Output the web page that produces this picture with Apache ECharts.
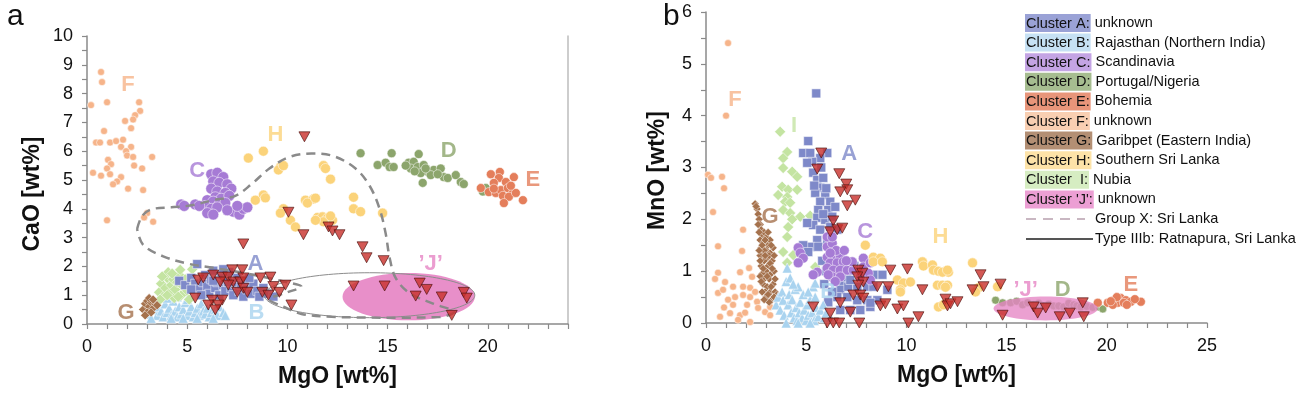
<!DOCTYPE html>
<html>
<head>
<meta charset="utf-8">
<script src="https://cdn.jsdelivr.net/npm/echarts@6/dist/echarts.min.js"></script>
<style>
  html, body { margin: 0; padding: 0; background: #fff; }
  #main { width: 1300px; height: 396px; }
</style>
</head>
<body>
<div id="main"></div>
<script>
'use strict';

// ---------- panel a : CaO vs MgO ----------
var aF = [[0.7,8.75],[0.75,8.4],[0.2,7.6],[1.0,7.7],[2.6,7.7],[2.65,7.4],[2.4,7.25],[2.3,7.1],[1.9,7.05],[2.2,6.8],[0.85,6.7],[0.45,6.3],[0.65,6.3],[1.15,6.3],[1.45,6.35],[1.8,6.4],[1.7,6.15],[2.2,6.15],[1.95,6.0],[2.0,5.85],[2.3,5.8],[3.25,5.8],[1.05,5.7],[1.2,5.55],[2.35,5.5],[1.0,5.4],[2.75,5.4],[0.3,5.25],[0.7,5.15],[1.15,5.2],[1.7,5.1],[1.5,4.95],[1.3,4.85],[2.05,4.7],[2.8,4.65],[1.0,3.6],[3.0,3.85],[2.85,3.7],[3.3,3.55]];
var aC = [[6.2,5.2],[6.5,5.25],[6.8,5.1],[6.3,4.95],[6.6,4.9],[7.0,4.85],[7.2,4.7],[6.2,4.7],[6.5,4.6],[6.9,4.55],[6.4,4.4],[6.7,4.35],[7.1,4.45],[6.0,4.3],[6.3,4.25],[6.6,4.15],[6.9,4.2],[5.9,4.1],[6.2,4.0],[6.5,4.05],[6.0,3.85],[6.3,3.8],[7.3,3.9],[7.6,3.8],[7.8,4.0],[8.0,4.05],[7.5,4.1],[4.7,4.15],[4.85,4.1],[5.4,4.15],[5.6,4.1],[7.0,3.95]];
var aH = [[8.05,5.76],[8.8,6.0],[9.65,5.45],[9.55,5.35],[9.8,5.5],[11.8,5.5],[11.9,5.4],[12.15,5.03],[8.8,4.48],[8.9,4.38],[8.4,4.3],[9.8,4.0],[9.65,3.85],[10.15,3.6],[10.4,3.37],[10.9,4.3],[11.3,4.34],[11.0,4.2],[11.4,4.37],[13.3,4.4],[13.3,4.0],[13.65,3.9],[14.75,3.85],[11.5,3.7],[11.75,3.72],[12.0,3.68],[12.25,3.6],[11.8,3.55],[11.4,3.6],[12.15,3.75]];
var aD = [[13.65,5.93],[14.5,5.52],[14.9,5.6],[15.2,5.93],[15.1,5.45],[15.3,5.45],[16.55,5.9],[16.05,5.6],[16.3,5.63],[16.15,5.4],[16.5,5.45],[16.8,5.52],[17.0,5.28],[17.3,5.35],[17.65,5.4],[17.8,5.1],[18.0,5.07],[18.4,5.17],[18.65,4.93],[18.8,4.86],[16.75,4.9],[16.65,5.24],[17.15,5.17],[19.9,4.72],[19.75,4.6],[15.9,5.5],[16.35,5.3],[17.5,5.2],[16.9,5.4]];
var aE = [[20.15,5.2],[20.6,5.28],[21.3,5.1],[20.55,5.07],[20.9,4.93],[20.3,4.9],[19.65,4.72],[20.05,4.58],[20.4,4.55],[20.65,4.65],[21.0,4.72],[21.25,4.55],[20.75,4.45],[21.05,4.42],[21.4,4.55],[21.75,4.3],[20.3,4.7],[21.15,4.8],[20.8,4.2]];
var aG = [[2.8,0.5],[2.9,0.7],[3.0,0.8],[3.1,0.6],[3.2,0.75],[3.3,0.55],[3.4,0.7],[3.0,0.4],[3.2,0.4],[2.9,0.3],[3.1,0.9],[3.3,0.85],[3.5,0.65]];
var aB = [[3.1,0.35],[3.3,0.5],[3.5,0.3],[3.6,0.6],[3.7,0.45],[3.8,0.25],[3.9,0.7],[4.0,0.4],[4.1,0.55],[4.2,0.3],[4.3,0.8],[4.4,0.45],[4.5,0.25],[4.6,0.6],[4.7,0.35],[4.8,0.5],[4.9,0.75],[5.0,0.3],[5.1,0.45],[5.2,0.6],[5.3,0.25],[5.4,0.4],[5.5,0.55],[5.6,0.3],[5.7,0.7],[5.8,0.45],[5.9,0.35],[6.0,0.55],[6.1,0.25],[6.2,0.4],[6.4,0.5],[6.5,0.3],[6.6,0.6],[6.8,0.4],[6.9,0.3],[3.4,0.75],[4.0,0.9],[4.5,0.95],[5.0,0.85],[4.2,0.2],[4.8,0.2],[5.5,0.2],[3.2,0.2],[6.3,0.2]];
var aI = [[3.6,1.1],[3.7,1.4],[3.8,0.95],[3.9,1.25],[4.0,1.6],[4.05,1.8],[4.1,1.05],[4.2,1.35],[4.3,1.55],[4.35,0.9],[4.4,1.2],[4.5,1.45],[4.6,1.7],[4.65,1.88],[4.7,1.0],[4.8,1.3],[4.9,1.55],[5.0,1.15],[5.1,0.85],[5.25,1.9],[3.75,1.65],[4.25,1.75],[4.55,0.95],[5.2,1.4],[3.65,0.85],[4.0,1.0]];
var aA = [[4.6,1.5],[4.9,1.35],[5.2,1.6],[5.5,2.08],[5.4,1.4],[5.6,1.2],[5.8,1.45],[5.9,1.7],[6.0,1.3],[6.1,1.05],[6.2,1.55],[6.3,1.85],[6.4,1.25],[6.5,1.45],[6.6,1.0],[6.7,1.7],[6.8,1.35],[6.9,1.15],[7.0,1.5],[7.1,1.8],[7.2,1.25],[7.3,1.0],[7.4,1.4],[7.5,1.6],[7.6,1.15],[7.7,1.35],[7.8,0.95],[7.9,1.5],[8.0,1.2],[8.2,1.05],[8.3,1.4],[8.5,1.15],[8.6,0.95],[8.8,1.25],[9.0,1.05],[9.3,0.95],[5.7,1.0],[6.3,1.5],[7.05,1.45],[8.1,1.6],[6.8,1.9],[5.2,1.2]];
var aSamples = [[7.8,2.78],[7.25,1.88],[7.75,1.88],[5.55,1.53],[5.8,1.6],[6.3,1.7],[6.75,1.63],[7.05,1.63],[6.65,1.46],[7.3,1.46],[7.65,1.46],[7.8,1.6],[8.65,1.6],[9.15,1.63],[7.05,1.35],[7.5,1.1],[7.8,1.24],[8.0,1.1],[8.75,1.1],[9.05,1.0],[9.3,1.3],[9.6,1.1],[9.9,1.35],[5.4,0.9],[6.25,0.83],[6.75,0.83],[6.05,0.66],[6.55,0.66],[6.4,0.49],[10.2,0.66],[10.05,3.88],[10.8,3.1],[10.85,6.5],[12.05,3.37],[12.25,3.23],[12.6,3.1],[13.75,2.68],[13.95,2.3],[14.8,2.2],[13.3,1.32],[14.85,1.32],[16.6,1.42],[16.95,1.2],[16.4,0.97],[17.7,0.94],[18.8,1.1],[18.95,0.9],[18.2,0.3]];
var aGroupX = [[2.5,3.3],[2.75,3.75],[3.2,3.98],[4.2,4.05],[5.2,4.12],[6.3,4.3],[7.4,4.45],[8.2,4.85],[9.1,5.4],[10.1,5.8],[11.2,5.92],[12.3,5.83],[13.4,5.4],[14.1,4.8],[14.6,4.0],[14.9,3.15],[15.1,2.3],[15.4,1.6],[16.1,1.07],[17.3,0.7],[18.3,0.42],[17.6,0.24],[15.6,0.22],[12.2,0.25],[10.7,0.35],[9.8,0.6],[9.1,0.85],[10.0,1.1],[10.7,1.3],[10.0,1.45],[8.0,1.75],[6.3,1.95],[5.0,2.1],[3.8,2.35],[2.8,2.75],[2.5,3.3]];
var aIIIb = [[14.1, 1.0, 5.25, 0.78]];   // centre x, centre y, radius x, radius y
var aJ = [[16.05, 0.95, 3.3, 0.82]];
var aTags = [['F',2.05,8.3],['H',9.4,6.56],['C',5.5,5.3],['D',18.05,6.0],['E',22.25,5.0],['A',8.4,2.08],['B',8.45,0.38],['G',1.95,0.38],['\u2019J\u2019',17.15,2.1]];

// ---------- panel b : MnO vs MgO ----------
var bF = [[1.1,5.4],[1.0,4.0],[0.1,2.86],[0.25,2.8],[0.8,2.82],[0.9,2.6],[0.35,2.14],[1.85,1.8],[0.6,1.48],[1.8,1.39],[1.7,0.98],[2.15,1.06],[2.3,0.89],[0.6,0.97],[0.95,0.79],[0.6,0.58],[0.85,0.64],[1.35,0.7],[1.85,0.7],[2.2,0.68],[1.45,0.5],[1.85,0.54],[2.2,0.5],[1.35,0.35],[2.05,0.35],[2.55,0.41],[2.6,0.29],[2.95,0.21],[3.2,0.15],[0.7,0.12],[1.2,0.19],[1.7,0.15],[2.2,0.02],[1.6,0.06],[3.2,0.31],[0.45,0.85],[1.1,0.45],[2.45,0.6],[0.9,0.3],[1.95,0.2]];
var bG = [[2.45,2.3],[2.55,2.2],[2.6,2.1],[2.65,2.0],[2.7,1.9],[2.75,1.8],[2.8,1.7],[2.9,1.75],[3.0,1.65],[2.7,1.6],[2.85,1.55],[3.1,1.5],[2.75,1.45],[3.0,1.4],[3.2,1.35],[2.8,1.3],[3.05,1.25],[2.9,1.2],[3.3,1.2],[2.75,1.1],[3.1,1.1],[3.0,1.0],[2.8,0.95],[3.25,0.95],[3.4,1.0],[2.9,0.85],[3.15,0.85],[2.85,0.75],[3.05,0.7],[3.35,0.75],[2.95,0.6],[3.2,0.6],[3.45,0.6],[3.0,0.5],[3.3,0.45],[3.5,0.45],[3.15,0.4],[3.55,0.55],[2.6,1.9],[3.2,1.6],[2.9,1.4],[3.15,1.3],[2.7,1.3],[3.35,1.45],[2.5,2.25],[2.65,1.75],[2.95,1.6],[3.1,1.75],[2.8,1.5],[3.25,1.5],[2.65,1.4],[2.95,1.3],[3.4,1.3],[2.7,1.2],[3.2,1.15],[2.85,1.05],[3.3,1.05],[2.7,0.9],[3.05,0.9],[3.45,0.85],[2.75,0.8],[3.25,0.7],[2.8,0.6],[3.1,0.55],[3.4,0.5],[2.9,0.45]];
var bI = [[3.7,3.69],[4.05,3.3],[3.85,3.18],[3.85,2.99],[4.3,2.92],[4.55,2.82],[3.8,2.63],[4.1,2.57],[4.55,2.57],[3.6,2.47],[4.05,2.43],[3.95,2.34],[4.2,2.32],[3.85,2.18],[4.2,2.12],[4.7,2.05],[4.3,2.0],[5.2,2.07],[4.1,1.85],[4.05,1.66],[5.45,1.08],[4.05,1.16],[3.85,1.37],[4.35,1.31]];
var bA = [[5.5,4.43],[5.1,3.51],[4.85,3.28],[5.2,3.28],[6.05,3.28],[5.7,3.18],[5.3,3.11],[5.05,3.09],[5.35,2.9],[5.55,2.76],[5.85,2.8],[5.7,2.61],[5.45,2.51],[5.95,2.47],[5.7,2.34],[6.2,2.34],[5.6,2.18],[6.1,2.18],[6.45,2.24],[5.55,2.03],[5.95,1.99],[6.3,2.05],[5.35,1.89],[5.7,1.8],[6.2,1.85],[6.55,1.8],[5.05,1.93],[5.55,1.6],[6.05,1.6],[5.2,1.47],[5.6,1.47],[4.85,1.5],[5.1,1.37],[6.85,0.77],[6.7,0.64],[7.1,0.7],[7.55,0.7],[8.05,0.7],[8.35,0.7],[6.55,0.5],[7.05,0.5],[7.55,0.44],[8.05,0.44],[8.55,0.44],[8.8,0.93],[8.35,0.93],[6.7,0.25],[7.2,0.25],[7.7,0.25],[8.2,0.31],[6.35,0.89],[7.05,0.89],[6.85,1.08],[7.7,0.96],[9.05,0.64],[7.2,0.83],[8.2,0.39],[5.8,1.2],[6.0,1.0],[5.9,0.75],[6.3,0.6],[6.1,0.4],[7.4,1.1],[5.75,3.0],[5.4,2.65],[6.0,2.6],[5.85,2.1]];
var bC = [[4.6,1.45],[4.7,1.35],[6.05,1.47],[6.3,1.54],[6.05,1.27],[6.35,1.27],[6.7,1.27],[6.2,1.16],[6.55,1.16],[6.85,1.18],[6.05,1.06],[6.35,1.02],[6.7,1.02],[7.05,1.02],[5.55,0.98],[5.35,0.93],[6.3,0.89],[6.7,0.89],[7.35,1.02],[7.85,1.25],[7.85,1.08],[8.2,1.16],[8.1,0.96],[7.7,0.89],[7.3,1.18],[4.85,1.25],[4.6,1.16],[6.1,0.93],[8.2,0.83],[6.05,1.66],[6.3,1.66],[6.5,1.4],[6.9,1.4],[6.45,0.8],[7.0,1.2],[6.2,1.35]];
var bB = [[3.5,0.35],[3.6,0.5],[3.7,0.25],[3.8,0.6],[3.85,0.44],[3.9,0.15],[4.0,0.8],[4.05,1.06],[4.1,0.35],[4.15,0.55],[4.2,0.87],[4.25,0.2],[4.3,0.45],[4.4,0.1],[4.45,0.65],[4.5,0.3],[4.55,0.05],[4.6,0.7],[4.65,0.2],[4.7,0.4],[4.8,0.1],[4.85,0.55],[4.9,0.25],[5.0,0.05],[5.05,0.35],[5.1,0.15],[5.2,0.45],[5.3,0.2],[5.35,0.7],[5.4,0.05],[5.45,0.5],[5.5,0.3],[5.6,0.12],[5.7,0.25],[5.85,0.35],[5.9,0.1],[6.0,0.2],[6.2,0.1],[4.0,0.0],[4.6,0.0],[5.2,0.0],[5.45,0.77],[4.35,0.75],[5.1,0.6]];
var bH = [[7.95,1.5],[8.35,1.27],[8.7,1.25],[8.35,1.18],[8.8,1.18],[9.55,0.83],[9.85,0.77],[10.2,0.79],[9.7,0.64],[10.8,1.18],[10.85,1.1],[11.3,1.12],[11.35,1.02],[11.6,1.0],[12.1,0.98],[11.55,0.73],[11.8,0.73],[12.05,0.73],[11.95,0.69],[11.6,0.31],[11.85,0.35],[13.3,1.16],[13.6,0.68],[13.45,0.6],[14.55,0.7],[11.8,0.98],[12.05,1.02],[9.7,0.6]];
var bD = [[14.45,0.44],[14.8,0.39],[15.2,0.39],[15.5,0.42],[15.8,0.35],[16.05,0.39],[16.35,0.35],[16.6,0.38],[16.85,0.33],[17.1,0.36],[17.35,0.33],[17.6,0.33],[17.85,0.31],[18.1,0.38],[18.35,0.35],[18.5,0.33],[18.7,0.31],[19.0,0.32],[19.3,0.3],[19.6,0.31],[19.8,0.27]];
var bE = [[19.55,0.39],[20.05,0.39],[20.35,0.44],[20.7,0.48],[20.95,0.44],[21.2,0.41],[21.7,0.41],[20.55,0.39],[20.85,0.39],[20.3,0.35],[20.5,0.5],[21.0,0.35],[21.4,0.46],[20.2,0.42]];
var bSamples = [[5.75,3.28],[5.55,2.97],[6.65,2.88],[7.0,2.68],[7.05,2.57],[6.7,2.53],[7.45,2.37],[7.05,2.26],[6.35,1.97],[6.2,1.76],[6.55,1.8],[6.8,1.83],[7.6,1.02],[7.8,0.96],[7.55,0.89],[7.85,0.79],[7.6,0.73],[8.55,0.7],[9.1,0.7],[9.2,1.02],[10.05,1.04],[7.35,0.54],[7.7,0.54],[7.85,0.48],[8.7,0.33],[8.95,0.37],[9.55,0.27],[9.85,0.33],[5.35,0.31],[6.2,0.19],[6.7,0.39],[7.2,0.21],[6.05,0],[6.35,0],[6.65,0],[7.65,0],[10.1,0],[10.8,0.64],[10.6,0.12],[11.95,0.46],[12.05,0.33],[12.2,0.37],[12.55,0.41],[13.3,0.64],[13.7,0.93],[13.85,0.7],[14.7,0.75],[14.8,0.15],[16.35,0.31],[16.55,0.19],[16.95,0.29],[17.65,0.12],[18.15,0.19],[18.8,0.39],[18.85,0.12]];
var bJ = [[16.95, 0.28, 2.6, 0.23]];
var bTags = [['F',1.45,4.3],['I',4.4,3.8],['A',7.15,3.26],['G',3.2,2.05],['C',7.95,1.76],['H',11.7,1.66],['B',6.1,0.6],['\u2019J\u2019',15.95,0.64],['D',17.8,0.64],['E',21.2,0.73]];

// ---------- legend ----------
var legendKeys = ['A','B','C','D','E','F','G','H','I','J'];
var legendHeads = ['Cluster A:','Cluster B:','Cluster C:','Cluster D:','Cluster E:','Cluster F:','Cluster G:','Cluster H:','Cluster  I:',"Cluster 'J':"];
var legendTexts = ['unknown','Rajasthan (Northern India)','Scandinavia','Portugal/Nigeria','Bohemia','unknown','Garibpet (Eastern India)','Southern Sri Lanka','Nubia','unknown'];
var lineLegendTexts = ['Group X: Sri Lanka','Type IIIb: Ratnapura, Sri Lanka'];

var col = {A:'#7e89c9', B:'#a9d3ef', C:'#a67bd5', D:'#8ca56c', E:'#e47e5b', F:'#f6b48a', G:'#a5724d', H:'#fbd37a', I:'#c4e4a2', J:'#e685c4', red:'#c8302a'};
var hiCol = {A:'#9aa2d6', B:'#c6e1f4', C:'#c4a4e4', D:'#a6bd90', E:'#e8957a', F:'#f9cfb2', G:'#b38f74', H:'#fde3a8', I:'#d6edc2', J:'#ec9fd4'};
var FONT = '"Liberation Sans", Arial, sans-serif';

var chart = echarts.init(document.getElementById('main'), null, {renderer: 'canvas'});

function dots(data, p, color, symbol, size) {
  return {
    type: 'scatter', xAxisIndex: p, yAxisIndex: p, data: data, symbol: symbol, symbolSize: size,
    itemStyle: {color: color, borderColor: 'rgba(255,255,255,0.85)', borderWidth: 0.6, opacity: 1},
    z: 3, silent: true, animation: false
  };
}
function samples(data, p) {
  return {
    type: 'scatter', xAxisIndex: p, yAxisIndex: p, data: data, symbol: 'triangle', symbolRotate: 180, symbolSize: [11, 10],
    itemStyle: {color: col.red, borderColor: '#4a0f0c', borderWidth: 0.8}, z: 8, clip: false, silent: true, animation: false
  };
}
function ellipse(data, p, style, z) {
  return {
    type: 'custom', coordinateSystem: 'cartesian2d', xAxisIndex: p, yAxisIndex: p, data: data, z: z, silent: true, animation: false,
    renderItem: function (params, api) {
      var c = api.coord([api.value(0), api.value(1)]);
      var s = api.size([api.value(2), api.value(3)]);
      return {type: 'ellipse', shape: {cx: c[0], cy: c[1], rx: s[0], ry: s[1]}, style: style};
    }
  };
}
function tags(list, p) {
  return {
    type: 'scatter', xAxisIndex: p, yAxisIndex: p, symbolSize: 1, z: 9, silent: true, animation: false,
    itemStyle: {color: 'rgba(0,0,0,0)'},
    data: list.map(function (t) {
      var key = t[0].replace(/\u2019/g, '');
      return {value: [t[1], t[2]], label: {show: true, position: 'inside', formatter: t[0], color: col[key],
        fontSize: 22, fontWeight: 'bold', fontFamily: FONT}};
    })
  };
}

function xAx(p, max) {
  return {
    type: 'value', gridIndex: p, min: 0, max: max, interval: 1,
    name: 'MgO [wt%]', nameLocation: 'middle', nameGap: 41,
    nameTextStyle: {fontSize: 23, fontWeight: 'bold', color: '#111', fontFamily: FONT, padding: p === 0 ? [0, 0, 0, 20] : 0},
    axisLine: {lineStyle: {color: '#8a8a8a', width: 1.5}},
    axisTick: {length: 5, lineStyle: {color: '#8a8a8a', width: 1.2}},
    axisLabel: {fontSize: 18, color: '#111', fontFamily: FONT, margin: 14, showMaxLabel: true,
      formatter: function (v) { return v % 5 === 0 ? String(v) : ''; }},
    splitLine: {show: false}
  };
}
function yAx(p, max, name, gap, pad) {
  return {
    type: 'value', gridIndex: p, min: 0, max: max, interval: 0.5,
    name: name, nameLocation: 'middle', nameGap: gap, nameRotate: 90,
    nameTextStyle: {fontSize: 23, fontWeight: 'bold', color: '#111', fontFamily: FONT, padding: pad},
    axisLine: {show: true, lineStyle: {color: '#8a8a8a', width: 1.5}},
    axisTick: {show: true, length: 5, lineStyle: {color: '#8a8a8a', width: 1.2}},
    axisLabel: {fontSize: 18, color: '#111', fontFamily: FONT, margin: 14,
      formatter: function (v) { return v % 1 === 0 ? String(v) : ''; }},
    splitLine: {show: false}
  };
}

// legend drawn as text with highlighted heads
var legendGraphics = [];
legendKeys.forEach(function (k, i) {
  legendGraphics.push({
    type: 'text', left: 1025, top: 14 + i * 19.6, silent: true,
    style: {
      text: '{h|' + legendHeads[i] + '} ' + legendTexts[i],
      fontSize: 14.5, fontFamily: FONT, fill: '#111',
      rich: {h: {backgroundColor: hiCol[k], padding: [2, 1, 1, 1], fontSize: 14.5, fontFamily: FONT, fill: '#111'}}
    }
  });
});
legendGraphics.push({type: 'line', silent: true, shape: {x1: 1026, y1: 219, x2: 1085, y2: 219},
  style: {stroke: '#c9b7c2', lineWidth: 2, lineDash: [10, 7]}});
legendGraphics.push({type: 'text', left: 1095, top: 211, silent: true,
  style: {text: lineLegendTexts[0], fontSize: 14.5, fontFamily: FONT, fill: '#111'}});
legendGraphics.push({type: 'line', silent: true, shape: {x1: 1026, y1: 239, x2: 1093, y2: 239},
  style: {stroke: '#555', lineWidth: 2}});
legendGraphics.push({type: 'text', left: 1095, top: 231, silent: true,
  style: {text: lineLegendTexts[1], fontSize: 14.5, fontFamily: FONT, fill: '#111'}});
legendGraphics.push({type: 'text', left: 7, top: 2, silent: true, style: {text: 'a', fontSize: 30, fontFamily: FONT, fill: '#111'}});
legendGraphics.push({type: 'text', left: 663, top: 2, silent: true, style: {text: 'b', fontSize: 30, fontFamily: FONT, fill: '#111'}});

var option = {
  backgroundColor: '#fff',
  animation: false,
  grid: [
    {left: 87, right: 732, top: 36, bottom: 72},
    {left: 706, right: 93, top: 12, bottom: 73}
  ],
  xAxis: [xAx(0, 24), xAx(1, 25)],
  yAxis: [
    yAx(0, 10, 'CaO [wt%]', 43, [0, 28, 0, 0]),
    yAx(1, 6, 'MnO [wt%]', 37, [0, 6, 0, 0]),
    {type: 'value', gridIndex: 0, position: 'right', min: 0, max: 10,
      axisLine: {show: true, lineStyle: {color: '#bdbdbd', width: 1.5}}, axisTick: {show: false},
      axisLabel: {show: false}, splitLine: {show: false}}
  ],
  graphic: legendGraphics,
  series: [
    // panel a
    dots(aF, 0, col.F, 'circle', 7),
    dots(aC, 0, col.C, 'circle', 11),
    dots(aH, 0, col.H, 'circle', 10),
    dots(aD, 0, col.D, 'circle', 9),
    dots(aE, 0, col.E, 'circle', 9),
    dots(aB, 0, col.B, 'triangle', 10),
    dots(aI, 0, col.I, 'diamond', 11),
    dots(aA, 0, col.A, 'rect', 9),
    dots(aG, 0, col.G, 'diamond', 9),
    ellipse(aJ, 0, {fill: col.J, opacity: 0.92}, 4),
    ellipse(aIIIb, 0, {fill: 'none', stroke: '#8c8c8c', lineWidth: 1}, 5),
    {type: 'line', xAxisIndex: 0, yAxisIndex: 0, data: aGroupX, symbol: 'none', smooth: 0.35, z: 6, silent: true,
      lineStyle: {color: '#8a8a8a', width: 2.5, type: [9, 6]}, animation: false},
    samples(aSamples, 0),
    tags(aTags, 0),
    // panel b
    dots(bF, 1, col.F, 'circle', 7),
    dots(bG, 1, col.G, 'diamond', 8),
    dots(bI, 1, col.I, 'diamond', 11),
    dots(bA, 1, col.A, 'rect', 9),
    dots(bB, 1, col.B, 'triangle', 10),
    dots(bC, 1, col.C, 'circle', 10),
    dots(bH, 1, col.H, 'circle', 10),
    dots(bD, 1, col.D, 'circle', 8),
    dots(bE, 1, col.E, 'circle', 9),
    ellipse(bJ, 1, {fill: col.J, opacity: 0.78}, 4),
    samples(bSamples, 1),
    tags(bTags, 1)
  ]
};
chart.setOption(option);
window.onresize = chart.resize;
</script>
</body>
</html>
